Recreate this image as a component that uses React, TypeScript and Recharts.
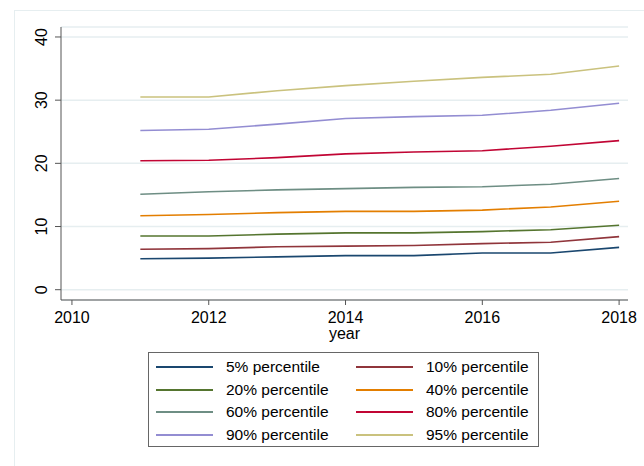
import React from 'react';
import { LineChart, Line, XAxis, YAxis, CartesianGrid } from 'recharts';

const years = [2011, 2012, 2013, 2014, 2015, 2016, 2017, 2018];

const p5 = [4.9, 5.0, 5.2, 5.4, 5.4, 5.8, 5.8, 6.7];
const p10 = [6.4, 6.5, 6.8, 6.9, 7.0, 7.3, 7.5, 8.4];
const p20 = [8.5, 8.5, 8.8, 9.0, 9.0, 9.2, 9.5, 10.2];
const p40 = [11.7, 11.9, 12.2, 12.4, 12.4, 12.6, 13.1, 14.0];
const p60 = [15.1, 15.5, 15.8, 16.0, 16.2, 16.3, 16.7, 17.6];
const p80 = [20.4, 20.5, 20.9, 21.5, 21.8, 22.0, 22.7, 23.6];
const p90 = [25.2, 25.4, 26.2, 27.1, 27.4, 27.6, 28.4, 29.5];
const p95 = [30.5, 30.5, 31.5, 32.3, 33.0, 33.6, 34.1, 35.4];

const xTicks = [2010, 2012, 2014, 2016, 2018];
const yTicks = [0, 10, 20, 30, 40];

const series = [
  { key: 'p5', name: '5% percentile', values: p5, color: '#1a476f' },
  { key: 'p10', name: '10% percentile', values: p10, color: '#90353b' },
  { key: 'p20', name: '20% percentile', values: p20, color: '#55752f' },
  { key: 'p40', name: '40% percentile', values: p40, color: '#e37e00' },
  { key: 'p60', name: '60% percentile', values: p60, color: '#6e8e84' },
  { key: 'p80', name: '80% percentile', values: p80, color: '#c10534' },
  { key: 'p90', name: '90% percentile', values: p90, color: '#938dd2' },
  { key: 'p95', name: '95% percentile', values: p95, color: '#cac27e' },
];

const data = years.map((year, i) => {
  const row: Record<string, number> = { year };
  series.forEach((s) => {
    row[s.key] = s.values[i];
  });
  return row;
});

const FONT = '"Liberation Sans", Arial, sans-serif';

// y tick labels are rotated in the original (Stata style)
const RotatedTick = (props: any) => {
  const { x, y, payload } = props;
  return (
    <text
      x={x}
      y={y}
      transform={`rotate(-90, ${x}, ${y})`}
      textAnchor="middle"
      fontSize={16}
      fontFamily={FONT}
      fill="#000"
    >
      {payload.value}
    </text>
  );
};

const App: React.FC = () => {
  return (
    <div style={styles.page}>
      <div style={styles.frameTop} />
      <div style={styles.frameLeft} />
      <LineChart
        width={644}
        height={466}
        data={data}
        margin={{ top: 27, right: 16, bottom: 127, left: 21 }}
      >
        <CartesianGrid vertical={false} stroke="#e6eef0" strokeWidth={1.5} />
        <XAxis
          dataKey="year"
          type="number"
          domain={[2009.84, 2018.13]}
          ticks={xTicks}
          allowDataOverflow
          height={39}
          tickSize={5}
          tickMargin={7}
          stroke="#555"
          tick={{ fill: '#000', fontSize: 16, fontFamily: FONT }}
          label={{ value: 'year', position: 'insideBottom', offset: 0, fill: '#000', fontSize: 16, fontFamily: FONT }}
        />
        <YAxis
          type="number"
          domain={[-1.63, 41.58]}
          ticks={yTicks}
          allowDataOverflow
          width={40}
          tickSize={6}
          tickMargin={8}
          stroke="#555"
          tick={<RotatedTick />}
        />
        {series.map((s) => (
          <Line
            key={s.key}
            type="linear"
            dataKey={s.key}
            name={s.name}
            stroke={s.color}
            strokeWidth={1.6}
            dot={false}
            isAnimationActive={false}
          />
        ))}
      </LineChart>
      <div style={styles.legend}>
        {series.map((s) => (
          <div key={s.key} style={styles.legendItem}>
            <span style={{ ...styles.swatch, backgroundColor: s.color }} />
            <span>{s.name}</span>
          </div>
        ))}
      </div>
    </div>
  );
};

const styles = {
  page: {
    position: 'absolute' as const,
    left: 0,
    top: 0,
    width: 644,
    height: 466,
    background: '#fff',
    overflow: 'hidden' as const,
  },
  frameTop: {
    position: 'absolute' as const,
    left: 14,
    top: 10,
    width: 630,
    height: 1,
    background: '#e6eef0',
  },
  frameLeft: {
    position: 'absolute' as const,
    left: 14,
    top: 10,
    width: 1,
    height: 456,
    background: '#e6eef0',
  },
  legend: {
    position: 'absolute' as const,
    left: 148,
    top: 352,
    width: 391,
    height: 95,
    border: '1px solid #666',
    display: 'grid',
    gridTemplateColumns: '200px 1fr',
    gridAutoRows: '22.5px',
    padding: '3px 0 0 0',
    boxSizing: 'border-box' as const,
    fontFamily: FONT,
    fontSize: 15.5,
    color: '#000',
  },
  legendItem: {
    display: 'flex',
    alignItems: 'center',
    whiteSpace: 'nowrap' as const,
  },
  swatch: {
    display: 'inline-block',
    width: 57,
    height: 2,
    marginLeft: 7,
    marginRight: 13,
  },
};

export default App;
